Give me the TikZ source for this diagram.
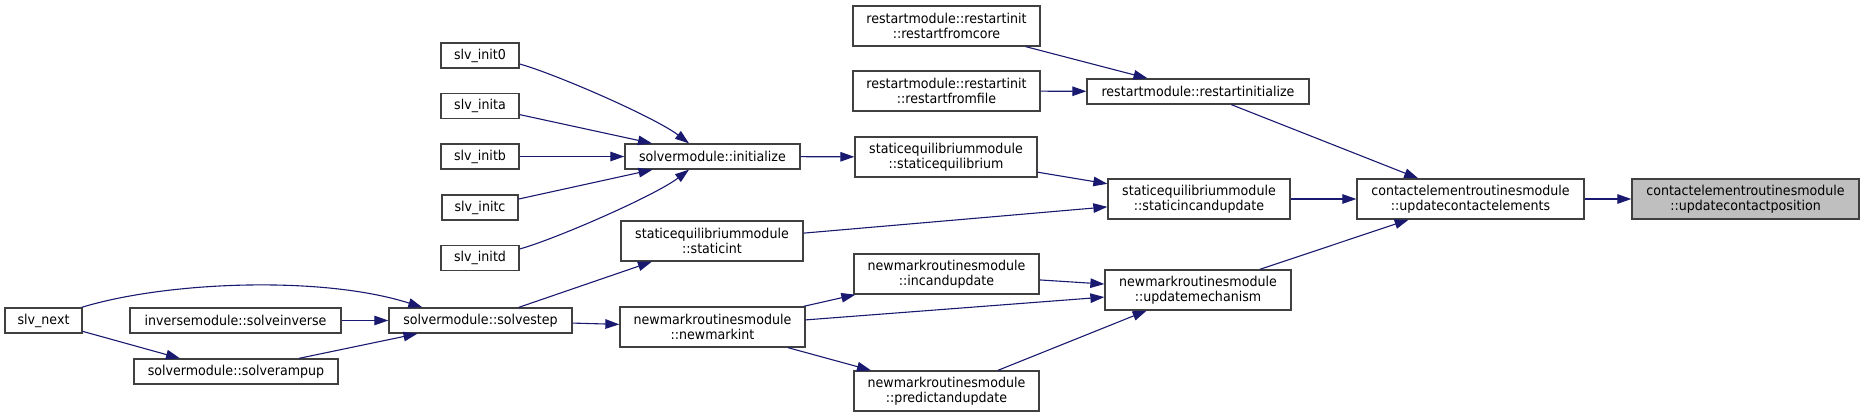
\documentclass[tikz,border=0pt]{standalone}
\usepackage{fontspec}
\newfontfamily\dxfont{DejaVu Sans}[FakeStretch=0.93]
\usetikzlibrary{arrows.meta}
\definecolor{edgeblue}{HTML}{191970}
\definecolor{boxline}{HTML}{404040}
\definecolor{hilite}{HTML}{BFBFBF}
\begin{document}
\begin{tikzpicture}[x=1pt,y=-1pt,
  fn/.style={draw=boxline,line width=1.3pt,fill=white,inner sep=0pt,align=center,
    font=\dxfont\fontsize{13.6}{14.7}\selectfont,text=black},
  one/.style={fn,minimum height=25pt},
  two/.style={fn,minimum height=40pt},
  cur/.style={two,fill=hilite},
  edge/.style={draw=edgeblue,line width=1.1pt,-{Triangle[length=14pt,width=9.5pt]}}]
\useasboundingbox (0,0) rectangle (1864,417);
% column 1
\node[one,minimum width=77pt] (next) at (43.5,320.5) {slv\_next};
% column 2
\node[one,minimum width=211pt] (inv) at (235.5,320.5) {inversemodule::solveinverse};
\node[one,minimum width=204pt] (ramp) at (236,371.5) {solvermodule::solverampup};
% column 3
\node[one,minimum width=78pt] (i0) at (480,55.5) {slv\_init0};
\node[one,minimum width=78pt] (ia) at (480,106) {slv\_inita};
\node[one,minimum width=78pt] (ib) at (480,156.5) {slv\_initb};
\node[one,minimum width=76pt] (ic) at (480,207.5) {slv\_initc};
\node[one,minimum width=78pt] (id) at (480,258) {slv\_initd};
\node[one,minimum width=183pt] (step) at (480.5,320.5) {solvermodule::solvestep};
% column 4
\node[one,minimum width=175pt] (init) at (712.5,156.5) {solvermodule::initialize};
\node[two,minimum width=182pt] (sint) at (712,241) {staticequilibriummodule\\::staticint};
\node[two,minimum width=185pt] (nint) at (712.5,327) {newmarkroutinesmodule\\::newmarkint};
% column 5
\node[two,minimum width=187pt] (rcore) at (946.5,26) {restartmodule::restartinit\\::restartfromcore};
\node[two,minimum width=187pt] (rfile) at (946.5,91) {restartmodule::restartinit\\::restartfromfile};
\node[two,minimum width=182pt] (seq) at (946,157) {staticequilibriummodule\\::staticequilibrium};
\node[two,minimum width=185pt] (inc) at (946.5,274) {newmarkroutinesmodule\\::incandupdate};
\node[two,minimum width=185pt] (pred) at (946.5,391) {newmarkroutinesmodule\\::predictandupdate};
% column 6
\node[one,minimum width=222pt] (rinit) at (1198,91.5) {restartmodule::restartinitialize};
\node[two,minimum width=182pt] (sinc) at (1199,199) {staticequilibriummodule\\::staticincandupdate};
\node[two,minimum width=186pt] (umech) at (1198,290) {newmarkroutinesmodule\\::updatemechanism};
% column 7
\node[two,minimum width=227pt] (uce) at (1470.5,199) {contactelementroutinesmodule\\::updatecontactelements};
% column 8
\node[cur,minimum width=227pt] (ucp) at (1745.5,199) {contactelementroutinesmodule\\::updatecontactposition};
% edges
\draw[edge] ([yshift=-8.5pt]i0.east) .. controls +(36,10) and +(-34,-26) .. ([xshift=-23.5pt]init.north);
\draw[edge] (ia) -- (init);
\draw[edge] (ib) -- (init);
\draw[edge] (ic) -- (init);
\draw[edge] ([yshift=9pt]id.east) .. controls +(36,-10) and +(-34,26) .. ([xshift=-23.5pt]init.south);
\draw[edge] (init) -- (seq);
\draw[edge] (seq) -- (sinc);
\draw[edge] (sint) -- (sinc);
\draw[edge] (rcore) -- (rinit);
\draw[edge] (rfile) -- (rinit);
\draw[edge] (rinit) -- (uce);
\draw[edge] (sinc) -- (uce);
\draw[edge] (umech) -- (uce);
\draw[edge] (uce) -- (ucp);
\draw[edge] (inc) -- (umech);
\draw[edge] (nint) -- (umech);
\draw[edge] (pred) -- (umech);
\draw[edge] (nint) -- (inc);
\draw[edge] (nint) -- (pred);
\draw[edge] (step) -- (nint);
\draw[edge] (step) -- (sint);
\draw[edge] (inv) -- (step);
\draw[edge] ([xshift=-1pt]next.north east) .. controls +(85,-26) and +(-100,-32) .. ([xshift=34pt]step.north west);
\draw[edge] (next) -- ([xshift=-56pt]ramp.north);
\draw[edge] (ramp) -- (step);
\end{tikzpicture}
\end{document}
